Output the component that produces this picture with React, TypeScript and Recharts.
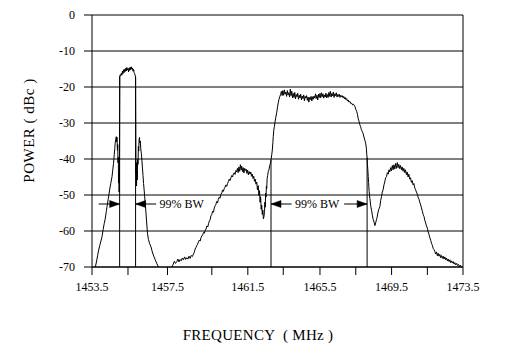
import React from 'react';
import { LineChart, Line, XAxis, YAxis, CartesianGrid, ReferenceLine, ReferenceDot } from 'recharts';

// ---- Data (frequency MHz, power dBc) ----
const narrowCarrierTrace: [number, number][] = [
  [1453.68, -70.0], [1453.74, -68.6], [1453.80, -66.9], [1453.86, -65.3], [1453.92, -64.0],
  [1453.98, -62.8], [1454.04, -61.6], [1454.10, -59.6], [1454.16, -57.9], [1454.22, -56.4],
  [1454.27, -54.6], [1454.31, -53.2], [1454.37, -51.2], [1454.41, -50.0], [1454.45, -48.6],
  [1454.51, -46.8], [1454.58, -44.9], [1454.62, -43.0], [1454.66, -41.2], [1454.70, -38.8],
  [1454.73, -37.0], [1454.75, -35.6], [1454.78, -34.5], [1454.81, -33.8], [1454.83, -35.2],
  [1454.85, -34.0], [1454.87, -37.6], [1454.89, -36.0], [1454.90, -41.0], [1454.92, -39.5],
  [1454.93, -46.7], [1454.95, -43.8], [1454.96, -49.2], [1454.98, -46.0], [1454.99, -30.0],
  [1455.00, -17.2], [1455.02, -16.6], [1455.05, -16.9], [1455.08, -16.2], [1455.11, -16.7],
  [1455.14, -15.6], [1455.17, -16.3], [1455.20, -15.2], [1455.23, -16.0], [1455.26, -15.1],
  [1455.29, -15.7], [1455.32, -14.8], [1455.35, -15.5], [1455.38, -14.6], [1455.41, -15.3],
  [1455.44, -14.9], [1455.47, -15.8], [1455.50, -14.7], [1455.53, -15.4], [1455.56, -14.5],
  [1455.59, -15.2], [1455.62, -14.4], [1455.65, -15.0], [1455.68, -14.7], [1455.71, -15.6],
  [1455.74, -15.1], [1455.77, -16.0], [1455.80, -16.3], [1455.83, -16.8], [1455.85, -17.5],
  [1455.86, -30.0], [1455.87, -44.0], [1455.89, -41.0], [1455.90, -47.5], [1455.92, -43.5],
  [1455.94, -45.8], [1455.96, -40.0], [1455.98, -41.5], [1456.00, -36.5], [1456.02, -37.8],
  [1456.04, -34.6], [1456.06, -34.0], [1456.08, -35.5], [1456.10, -35.0], [1456.13, -37.2],
  [1456.16, -38.4], [1456.19, -40.3], [1456.22, -42.5], [1456.25, -44.6], [1456.28, -46.8],
  [1456.31, -48.6], [1456.34, -50.5], [1456.37, -52.3], [1456.41, -55.0], [1456.45, -57.8],
  [1456.49, -60.6], [1456.54, -62.3], [1456.60, -63.4], [1456.68, -64.4], [1456.75, -65.8],
  [1456.83, -67.0], [1456.91, -68.0], [1457.00, -69.1], [1457.08, -70.0],
];

const lowerLobeTrace: [number, number][] = [
  [1457.81, -70.0], [1457.88, -69.2], [1457.94, -68.4], [1458.00, -69.0], [1458.07, -68.5],
  [1458.13, -67.8], [1458.19, -68.6], [1458.25, -67.9], [1458.31, -68.3], [1458.37, -67.5],
  [1458.43, -68.0], [1458.49, -67.2], [1458.55, -67.9], [1458.61, -67.4], [1458.67, -67.8],
  [1458.73, -67.0], [1458.79, -67.6], [1458.85, -66.8], [1458.91, -67.1], [1458.97, -66.4],
  [1459.02, -65.8], [1459.06, -65.0], [1459.10, -64.6], [1459.15, -64.0], [1459.20, -63.6],
  [1459.24, -63.0], [1459.29, -62.5], [1459.33, -62.8], [1459.38, -61.8], [1459.42, -61.4],
  [1459.47, -61.0], [1459.51, -60.4], [1459.56, -60.6], [1459.60, -59.9], [1459.65, -59.4],
  [1459.69, -58.6], [1459.74, -58.9], [1459.78, -58.0], [1459.83, -57.2], [1459.87, -56.9],
  [1459.91, -55.8], [1459.96, -55.4], [1460.00, -54.5], [1460.05, -54.8], [1460.09, -53.6],
  [1460.14, -53.0], [1460.18, -52.6], [1460.22, -51.8], [1460.27, -52.2], [1460.31, -51.2],
  [1460.36, -50.6], [1460.40, -50.9], [1460.45, -49.8], [1460.50, -49.4], [1460.54, -48.6],
  [1460.58, -49.0], [1460.63, -48.2], [1460.67, -47.8], [1460.72, -47.2], [1460.76, -47.6],
  [1460.81, -46.8], [1460.85, -46.3], [1460.90, -45.6], [1460.94, -46.0], [1460.99, -45.2],
  [1461.03, -44.6], [1461.08, -45.0], [1461.12, -44.1], [1461.17, -43.8], [1461.21, -44.3],
  [1461.26, -43.2], [1461.30, -43.6], [1461.34, -42.6], [1461.38, -43.8], [1461.42, -42.2],
  [1461.46, -43.4], [1461.50, -41.6], [1461.54, -43.0], [1461.57, -42.0], [1461.61, -43.5],
  [1461.65, -42.4], [1461.69, -43.9], [1461.73, -42.6], [1461.77, -43.2], [1461.81, -42.8],
  [1461.85, -44.0], [1461.89, -43.1], [1461.93, -44.4], [1461.97, -43.5], [1462.02, -44.2],
  [1462.06, -43.6], [1462.10, -44.8], [1462.14, -44.2], [1462.18, -45.4], [1462.22, -44.8],
  [1462.26, -46.2], [1462.30, -45.6], [1462.34, -47.0], [1462.38, -46.4], [1462.42, -48.6],
  [1462.46, -47.4], [1462.50, -50.2], [1462.53, -48.8], [1462.56, -52.0], [1462.59, -50.5],
  [1462.62, -54.0], [1462.65, -52.8], [1462.68, -55.4], [1462.71, -54.2], [1462.74, -56.6],
  [1462.77, -56.0], [1462.80, -54.6], [1462.82, -52.0], [1462.84, -53.4], [1462.86, -49.5],
  [1462.88, -50.6], [1462.90, -47.6], [1462.92, -48.2], [1462.94, -45.4], [1462.97, -44.6],
  [1463.00, -43.5], [1463.04, -43.0], [1463.08, -41.8], [1463.12, -41.2],
];

const wideCarrierTrace: [number, number][] = [
  [1463.15, -40.3], [1463.19, -38.8], [1463.22, -37.5], [1463.25, -35.5], [1463.27, -33.8],
  [1463.30, -32.0], [1463.33, -31.0], [1463.37, -29.6], [1463.41, -28.4], [1463.46, -27.0],
  [1463.50, -25.6], [1463.54, -24.4], [1463.58, -23.4], [1463.63, -22.6], [1463.67, -22.0],
  [1463.71, -21.2], [1463.75, -22.4], [1463.79, -21.0], [1463.83, -22.3], [1463.87, -20.8],
  [1463.91, -22.0], [1463.95, -21.4], [1463.99, -22.6], [1464.03, -21.0], [1464.07, -22.2],
  [1464.11, -21.6], [1464.15, -22.8], [1464.19, -20.6], [1464.23, -22.4], [1464.27, -21.2],
  [1464.31, -23.0], [1464.35, -21.8], [1464.39, -22.9], [1464.43, -21.5], [1464.47, -23.3],
  [1464.51, -22.1], [1464.55, -22.7], [1464.59, -21.7], [1464.63, -23.4], [1464.67, -22.3],
  [1464.71, -23.0], [1464.75, -22.0], [1464.79, -23.6], [1464.83, -22.5], [1464.87, -23.2],
  [1464.91, -22.2], [1464.95, -23.8], [1464.99, -22.6], [1465.03, -23.1], [1465.07, -22.4],
  [1465.11, -23.7], [1465.15, -22.8], [1465.19, -24.2], [1465.23, -22.9], [1465.27, -23.5],
  [1465.31, -22.6], [1465.35, -23.9], [1465.39, -22.7], [1465.43, -23.4], [1465.47, -22.5],
  [1465.51, -23.1], [1465.55, -21.9], [1465.59, -23.2], [1465.63, -22.3], [1465.67, -23.6],
  [1465.71, -22.0], [1465.75, -22.9], [1465.79, -21.8], [1465.83, -23.0], [1465.87, -21.6],
  [1465.91, -22.7], [1465.95, -21.9], [1465.99, -23.1], [1466.03, -22.2], [1466.07, -22.8],
  [1466.11, -21.7], [1466.15, -23.0], [1466.19, -22.1], [1466.23, -22.9], [1466.27, -21.5],
  [1466.31, -22.6], [1466.35, -21.2], [1466.39, -22.8], [1466.43, -21.8], [1466.47, -22.5],
  [1466.51, -21.4], [1466.55, -22.9], [1466.59, -21.9], [1466.63, -22.4], [1466.67, -21.6],
  [1466.71, -22.8], [1466.75, -22.1], [1466.79, -22.6], [1466.83, -22.0], [1466.87, -22.9],
  [1466.91, -22.3], [1466.95, -22.7], [1466.99, -22.4], [1467.03, -23.0], [1467.07, -22.6],
  [1467.11, -23.3], [1467.15, -22.9], [1467.19, -23.5], [1467.23, -23.2], [1467.27, -23.9],
  [1467.31, -23.6], [1467.35, -24.2], [1467.40, -24.0], [1467.45, -24.6], [1467.50, -24.5],
  [1467.55, -25.0], [1467.60, -24.8], [1467.67, -25.4], [1467.72, -26.2], [1467.77, -26.8],
  [1467.81, -27.6], [1467.85, -28.8], [1467.90, -29.6], [1467.94, -30.5], [1467.98, -31.0],
  [1468.02, -31.8], [1468.07, -32.4], [1468.12, -33.0], [1468.16, -33.9], [1468.21, -34.8],
  [1468.26, -35.8], [1468.29, -37.0], [1468.31, -38.6], [1468.33, -39.6],
];

const upperLobeTrace: [number, number][] = [
  [1468.35, -41.6], [1468.37, -43.0], [1468.39, -44.8], [1468.41, -46.5], [1468.44, -49.0],
  [1468.48, -51.0], [1468.53, -53.2], [1468.57, -54.2], [1468.62, -55.8], [1468.66, -56.8],
  [1468.71, -57.6], [1468.75, -58.5], [1468.79, -57.8], [1468.83, -56.9], [1468.87, -56.2],
  [1468.91, -55.0], [1468.96, -54.0], [1469.02, -53.2], [1469.06, -51.6], [1469.11, -50.4],
  [1469.15, -49.2], [1469.19, -48.6], [1469.24, -47.2], [1469.28, -46.4], [1469.33, -45.2],
  [1469.38, -44.9], [1469.42, -43.8], [1469.47, -44.2], [1469.51, -43.0], [1469.55, -43.6],
  [1469.60, -42.4], [1469.64, -43.3], [1469.69, -41.8], [1469.73, -43.0], [1469.78, -41.6],
  [1469.82, -42.8], [1469.87, -41.2], [1469.91, -42.6], [1469.96, -41.0], [1470.00, -42.4],
  [1470.04, -41.5], [1470.09, -42.7], [1470.13, -41.8], [1470.18, -43.0], [1470.22, -42.2],
  [1470.27, -43.4], [1470.31, -42.6], [1470.36, -43.8], [1470.40, -43.0], [1470.45, -44.4],
  [1470.49, -43.6], [1470.54, -45.0], [1470.58, -44.2], [1470.63, -45.6], [1470.67, -45.2],
  [1470.72, -46.5], [1470.76, -46.0], [1470.81, -47.2], [1470.85, -46.8], [1470.90, -48.0],
  [1470.94, -48.5], [1470.99, -49.2], [1471.04, -49.8], [1471.08, -50.6], [1471.13, -51.2],
  [1471.17, -52.0], [1471.22, -52.8], [1471.26, -53.6], [1471.31, -54.5], [1471.35, -55.4],
  [1471.40, -56.0], [1471.44, -57.0], [1471.49, -57.8], [1471.53, -58.6], [1471.58, -59.2],
  [1471.62, -60.2], [1471.67, -61.0], [1471.71, -61.8], [1471.76, -62.6], [1471.80, -63.4],
  [1471.85, -64.0], [1471.89, -64.8], [1471.94, -65.2], [1471.98, -65.7], [1472.03, -66.4],
  [1472.07, -65.8], [1472.12, -66.9], [1472.16, -66.2], [1472.21, -67.0], [1472.25, -66.5],
  [1472.30, -67.4], [1472.34, -66.8], [1472.39, -67.6], [1472.43, -67.0], [1472.48, -67.8],
  [1472.52, -67.2], [1472.57, -68.0], [1472.61, -67.5], [1472.66, -68.3], [1472.70, -67.8],
  [1472.75, -68.5], [1472.79, -68.0], [1472.84, -68.8], [1472.88, -68.3], [1472.93, -68.9],
  [1472.97, -68.5], [1473.02, -69.2], [1473.06, -68.8], [1473.11, -69.4], [1473.16, -69.0],
  [1473.21, -69.6], [1473.26, -69.3], [1473.31, -70.0], [1473.36, -69.5], [1473.41, -70.0],
];

// trace is below the axis floor between the two signals
const belowFloorGap: [number, number | null][] = [[1457.45, null]];

// x ticks (positions as drawn on the reference axis) and their labels
const xTickPositions = [1453.5, 1455.44, 1457.57, 1459.96, 1461.9, 1463.81, 1465.79, 1467.72, 1469.65, 1471.58, 1473.5];
const xTickLabels = ['1453.5', '', '1457.5', '', '1461.5', '', '1465.5', '', '1469.5', '', '1473.5'];
const yTicks = [0, -10, -20, -30, -40, -50, -60, -70];

// 99% bandwidth markers
const bwMarkerFreqs = [1454.99, 1455.85, 1463.15, 1468.33];
const bwMarkerTops = [-17, -17, -40.3, -39.6];
const bwArrowLevel = -52.5;
const bwArrowShafts: [number, number][] = [[1453.86, 1454.99], [1455.85, 1456.96], [1463.15, 1464.26], [1467.09, 1468.33]];
const bwArrowDirs = ['right', 'left', 'left', 'right'];
const bwLabelFreqs = [1458.33, 1465.64];
const bwLabelText = '99% BW';

const data = [
  ...narrowCarrierTrace,
  ...belowFloorGap,
  ...lowerLobeTrace,
  ...wideCarrierTrace,
  ...upperLobeTrace,
].map(([f, p]) => ({ f, p }));

const FONT = '"Liberation Serif", "Times New Roman", serif';

const Arrowhead = (props: any) => {
  const { cx, cy, dir } = props;
  if (cx == null || cy == null) return <g />;
  const L = 10;
  const H = 3.5;
  const pts =
    dir === 'right'
      ? `${cx},${cy} ${cx - L},${cy - H} ${cx - L},${cy + H}`
      : `${cx},${cy} ${cx + L},${cy - H} ${cx + L},${cy + H}`;
  return <polygon points={pts} fill="#000" stroke="#000" strokeWidth={0.5} />;
};

const BwText = (props: any) => {
  const { cx, cy } = props;
  if (cx == null || cy == null) return <g />;
  return (
    <text x={cx} y={cy} textAnchor="middle" dominantBaseline="central" fontFamily={FONT} fontSize={12} fill="#000">
      {bwLabelText}
    </text>
  );
};

export default function App() {
  return (
    <div style={{ position: 'absolute', left: 0, top: 0, width: 516, height: 356, background: '#fff' }}>
      <LineChart
        width={516}
        height={356}
        data={data}
        margin={{ top: 15, right: 53, bottom: 0, left: 0 }}
        style={{ fontFamily: FONT }}
      >
        <CartesianGrid horizontal vertical={false} stroke="#000" strokeWidth={1} />
        <XAxis
          type="number"
          dataKey="f"
          domain={[1453.5, 1473.5]}
          ticks={xTickPositions}
          interval={0}
          tickFormatter={(v: number) => xTickLabels[xTickPositions.indexOf(v)] ?? ''}
          height={89}
          axisLine={{ stroke: '#000' }}
          tickLine={{ stroke: '#000' }}
          tickSize={8}
          tickMargin={7}
          tick={{ fill: '#000', fontSize: 12, fontFamily: FONT }}
          allowDataOverflow
          label={{
            content: () => (
              <text x={258} y={339.5} textAnchor="middle" fontFamily={FONT} fontSize={15} letterSpacing={0.3} fill="#000" style={{ whiteSpace: 'pre' }}>
                {'FREQUENCY  ( MHz )'}
              </text>
            ),
          }}
        />
        <YAxis
          type="number"
          domain={[-70, 0]}
          ticks={yTicks}
          interval={0}
          width={92}
          axisLine={{ stroke: '#000' }}
          tickLine={{ stroke: '#000' }}
          tickSize={8}
          tickMargin={9}
          tick={{ fill: '#000', fontSize: 12, fontFamily: FONT }}
          allowDataOverflow
          label={{
            content: () => (
              <text
                x={33.5}
                y={130.5}
                textAnchor="middle"
                transform="rotate(-90, 33.5, 130.5)"
                fontFamily={FONT}
                fontSize={15}
                letterSpacing={0.5}
                fill="#000"
                style={{ whiteSpace: 'pre' }}
              >
                {'POWER ( dBc )'}
              </text>
            ),
          }}
        />
        <ReferenceLine x={1473.5} stroke="#000" strokeWidth={1} />
        {bwMarkerFreqs.map((f, i) => (
          <ReferenceLine
            key={`m${i}`}
            segment={[{ x: f, y: -70 }, { x: f, y: bwMarkerTops[i] }]}
            stroke="#000"
            strokeWidth={1}
          />
        ))}
        {bwArrowShafts.map(([a, b], i) => (
          <ReferenceLine
            key={`s${i}`}
            segment={[{ x: a, y: bwArrowLevel }, { x: b, y: bwArrowLevel }]}
            stroke="#000"
            strokeWidth={1}
          />
        ))}
        {bwMarkerFreqs.map((f, i) => (
          <ReferenceDot
            key={`h${i}`}
            x={f}
            y={bwArrowLevel}
            r={0}
            shape={(p: any) => <Arrowhead {...p} dir={bwArrowDirs[i]} />}
          />
        ))}
        {bwLabelFreqs.map((f, i) => (
          <ReferenceDot key={`t${i}`} x={f} y={bwArrowLevel} r={0} shape={(p: any) => <BwText {...p} />} />
        ))}
        <Line
          type="linear"
          dataKey="p"
          stroke="#000"
          strokeWidth={1}
          dot={false}
          activeDot={false}
          connectNulls={false}
          isAnimationActive={false}
        />
      </LineChart>
    </div>
  );
}
